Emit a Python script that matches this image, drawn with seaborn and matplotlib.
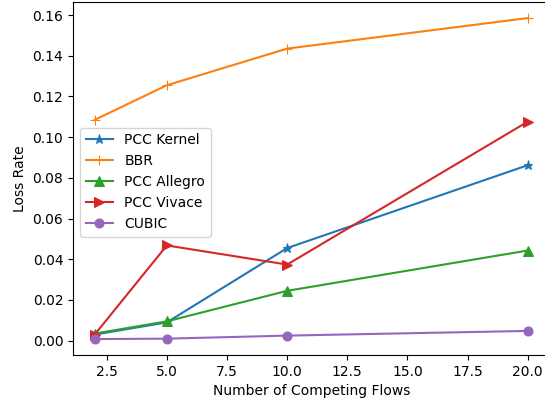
import matplotlib
matplotlib.use("Agg")
import matplotlib.pyplot as plt
import seaborn as sns
import pandas as pd

flows = [2, 5, 10, 20]
pcc_kernel = [0.003, 0.009, 0.0455, 0.0862]
bbr = [0.1085, 0.1255, 0.1435, 0.1585]
pcc_allegro = [0.0035, 0.0095, 0.0245, 0.0443]
pcc_vivace = [0.003, 0.0468, 0.0374, 0.1076]
cubic = [0.0008, 0.001, 0.0025, 0.0048]

series = [("PCC Kernel", pcc_kernel, "*"),
          ("BBR", bbr, "+"),
          ("PCC Allegro", pcc_allegro, "^"),
          ("PCC Vivace", pcc_vivace, ">"),
          ("CUBIC", cubic, "o")]
colors = sns.color_palette("tab10")

fig, ax = plt.subplots(figsize=(5.45, 4.04), dpi=100)
for i, (name, vals, mk) in enumerate(series):
    df = pd.DataFrame({"flows": flows, "loss": vals})
    sns.lineplot(data=df, x="flows", y="loss", ax=ax, label=name,
                 marker=mk, markersize=6.5, color=colors[i],
                 markeredgecolor=colors[i])

ax.set_xlabel("Number of Competing Flows")
ax.set_ylabel("Loss Rate")
ax.legend(loc="center left", fontsize=10, bbox_to_anchor=(0, 0.49))
fig.subplots_adjust(left=0.134, right=1.008, bottom=0.121, top=0.995)
fig.savefig("out.png", dpi=100)
